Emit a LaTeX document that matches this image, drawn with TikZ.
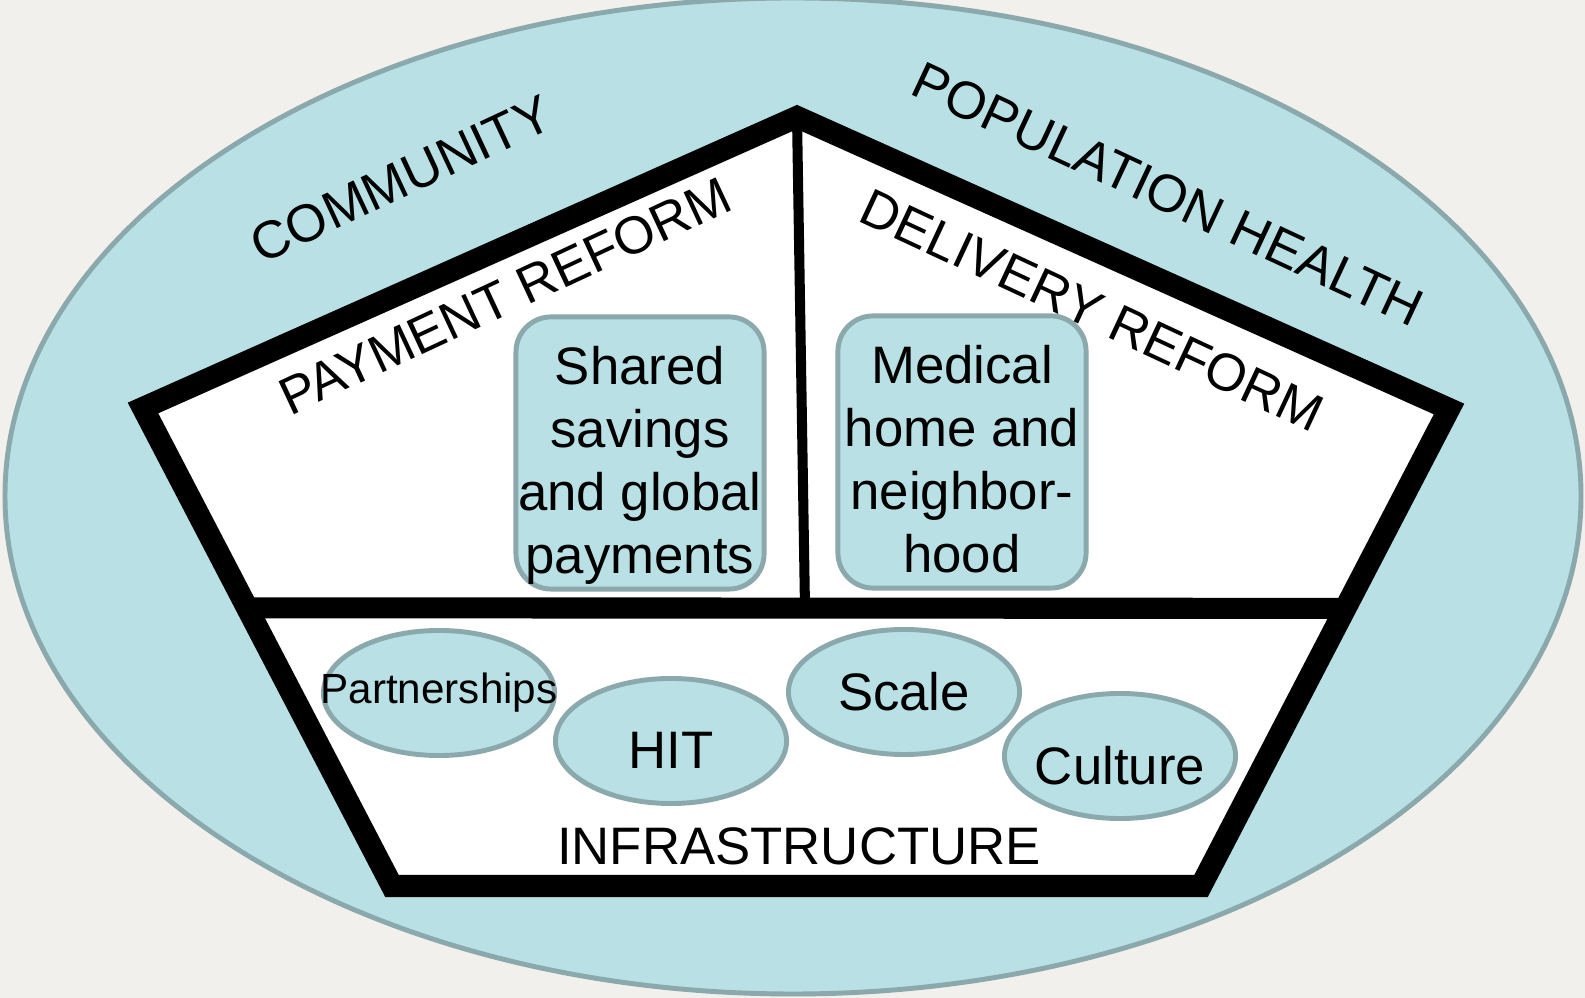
\documentclass[tikz,border=0pt]{standalone}
\usepackage{fontspec}
\setmainfont{Liberation Sans}
\usetikzlibrary{shapes.geometric,calc}

\definecolor{bgcol}{HTML}{F1F0EC}
\definecolor{paleteal}{HTML}{B9E0E4}
\definecolor{rimcol}{HTML}{8BA9AC}

% text lowered a little inside its shape
\newcommand\cardtext[1]{\raisebox{-0.13cm}[\height][\depth]{\begin{tabular}{@{}c@{}}#1\end{tabular}}}
\newcommand\bubtext[2][0cm]{\makebox[0pt]{\raisebox{-#1}[\height][\depth]{#2}}}

\begin{document}
\begin{tikzpicture}[x=0.01cm,y=-0.01cm,
		card/.style={rectangle,rounded corners=10pt,draw=rimcol,line width=1.4pt,fill=paleteal,
			inner sep=0pt,minimum width=2.48cm,minimum height=2.72cm,
			font=\fontsize{15}{17.9}\selectfont},
		bubble/.style={ellipse,draw=rimcol,line width=1.4pt,fill=paleteal,inner sep=0pt,
			minimum width=2.31cm,minimum height=1.25cm,font=\fontsize{15}{18}\selectfont},
		heading/.style={inner sep=0pt,font=\fontsize{15}{18}\selectfont}]
		\useasboundingbox (0,0) rectangle (1585,998);
		
		% Background and the community ellipse
		\fill[bgcol] (0,0) rectangle (1585,998);
		\draw[rimcol,fill=paleteal,line width=1.4pt] (793,496) ellipse [x radius=788,y radius=498];
		
		% Corners of the house
		\coordinate (apex) at (797,117);
		\coordinate (left) at (143,408);
		\coordinate (right) at (1449,409);
		\coordinate (botL) at (392,886);
		\coordinate (botR) at (1201,886);
		\coordinate (barL) at ($(left)!0.418!(botL)$);
		\coordinate (barR) at ($(right)!0.418!(botR)$);
		\coordinate (midB) at (805,608);
		
		% Draw the house
		\draw[line width=6.3pt,line join=miter,fill=white] (apex) -- (right) -- (botR) -- (botL) -- (left) -- cycle;
		\draw[line width=6pt] (barL) -- (barR);
		\draw[line width=2.85pt] (apex) -- (midB);
		
		% Reform boxes
		\node[card] (savings) at (640,453) {\cardtext{Shared\\savings\\and global\\payments}};
		\node[card] (medical) at (962,452) {\cardtext{Medical\\home and\\neighbor-\\hood}};
		
		% Infrastructure bubbles
		\node[bubble,font=\fontsize{12}{14}\selectfont] (partner) at (439,693) {\bubtext{Partnerships}};
		\node[bubble] (hit) at (671,741) {\bubtext[0.09cm]{HIT}};
		\node[bubble] (scale) at (904,692) {\bubtext{Scale}};
		\node[bubble] (culture) at (1120,756) {\bubtext[0.1cm]{Culture}};
		
		% Labels
		\node[heading,rotate=25] (community) at (401,179) {COMMUNITY};
		\node[heading,rotate=-25] (pophealth) at (1168,194) {POPULATION HEALTH};
		\node[heading,rotate=25] (payment) at (505,296) {PAYMENT REFORM};
		\node[heading,rotate=-25] (delivery) at (1092,310) {DELIVERY REFORM};
		\node[heading] (infra) at (799,846) {INFRASTRUCTURE};
	\end{tikzpicture}
\end{document}
